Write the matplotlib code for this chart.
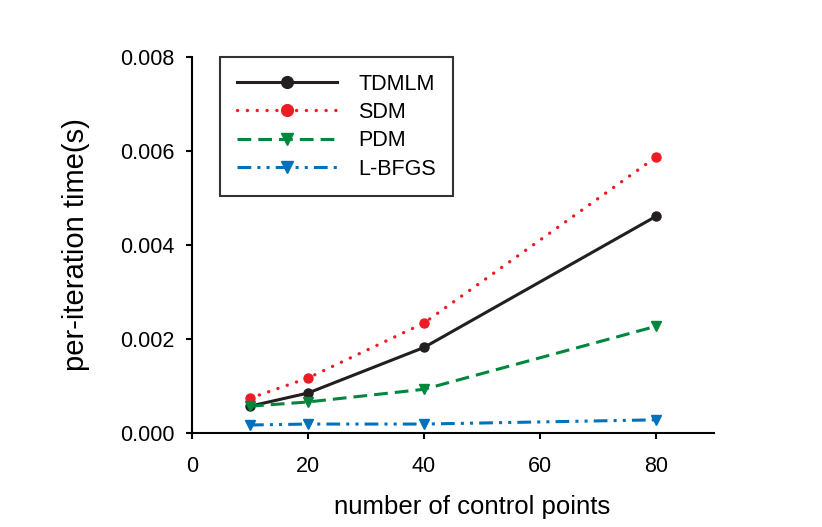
import numpy as np
import matplotlib.pyplot as plt

plt.rcParams['font.family'] = ['Liberation Sans', 'DejaVu Sans']

points = [10, 20, 40, 80]
tdmlm = [0.00057, 0.00085, 0.00182, 0.00461]
sdm = [0.00074, 0.00117, 0.00234, 0.00587]
pdm = [0.00057, 0.00066, 0.00093, 0.00227]
lbfgs = [0.00017, 0.00019, 0.00019, 0.00028]

xticks = [0, 20, 40, 60, 80]
yticks = [0.000, 0.002, 0.004, 0.006, 0.008]

fig = plt.figure(figsize=(8.22, 5.27), dpi=100)
ax = fig.add_axes([0.2336, 0.1784, 0.635, 0.7134])

ax.plot(points, tdmlm, color='#231f20', lw=2.2, ls='-', marker='o', ms=6.5, label='TDMLM')
ax.plot(points, sdm, color='#ed1c24', lw=2.4, ls=(0, (0.05, 2.9)), dash_capstyle='round',
        marker='o', ms=6.5, label='SDM')
ax.plot(points, pdm, color='#00873e', lw=2.2, ls=(0, (4.5, 2.3)), marker='v', ms=6.5, label='PDM')
ax.plot(points, lbfgs, color='#0072bc', lw=2.2, ls=(0, (4.5, 2, 1, 2, 1, 2)),
        marker='v', ms=6.5, label='L-BFGS')

ax.set_xlim(0, 90)
ax.set_ylim(0, 0.008)
ax.set_xticks(xticks)
ax.set_yticks(yticks)
ax.set_yticklabels(['%.3f' % v for v in yticks])

for s in ['top', 'right']:
    ax.spines[s].set_visible(False)
for s in ['left', 'bottom']:
    ax.spines[s].set_linewidth(1.5)
ax.tick_params(direction='out', length=4.5, width=1.5, labelsize=15.5)
ax.tick_params(axis='y', pad=8)
ax.tick_params(axis='x', pad=12)

ax.set_xlabel('number of control points', fontsize=18.5)
ax.xaxis.set_label_coords(0.536, -0.165)
ax.set_ylabel('per-iteration time(s)', fontsize=21, labelpad=22)

leg = ax.legend(loc='upper left', bbox_to_anchor=(0.0536, 1.0), fontsize=15.5,
                handlelength=4.65, handletextpad=1.0, borderpad=0.77,
                labelspacing=0.34, fancybox=False, edgecolor='black',
                borderaxespad=0, markerscale=1.3)
leg.get_frame().set_linewidth(1.5)

fig.savefig('out.png', dpi=100)
